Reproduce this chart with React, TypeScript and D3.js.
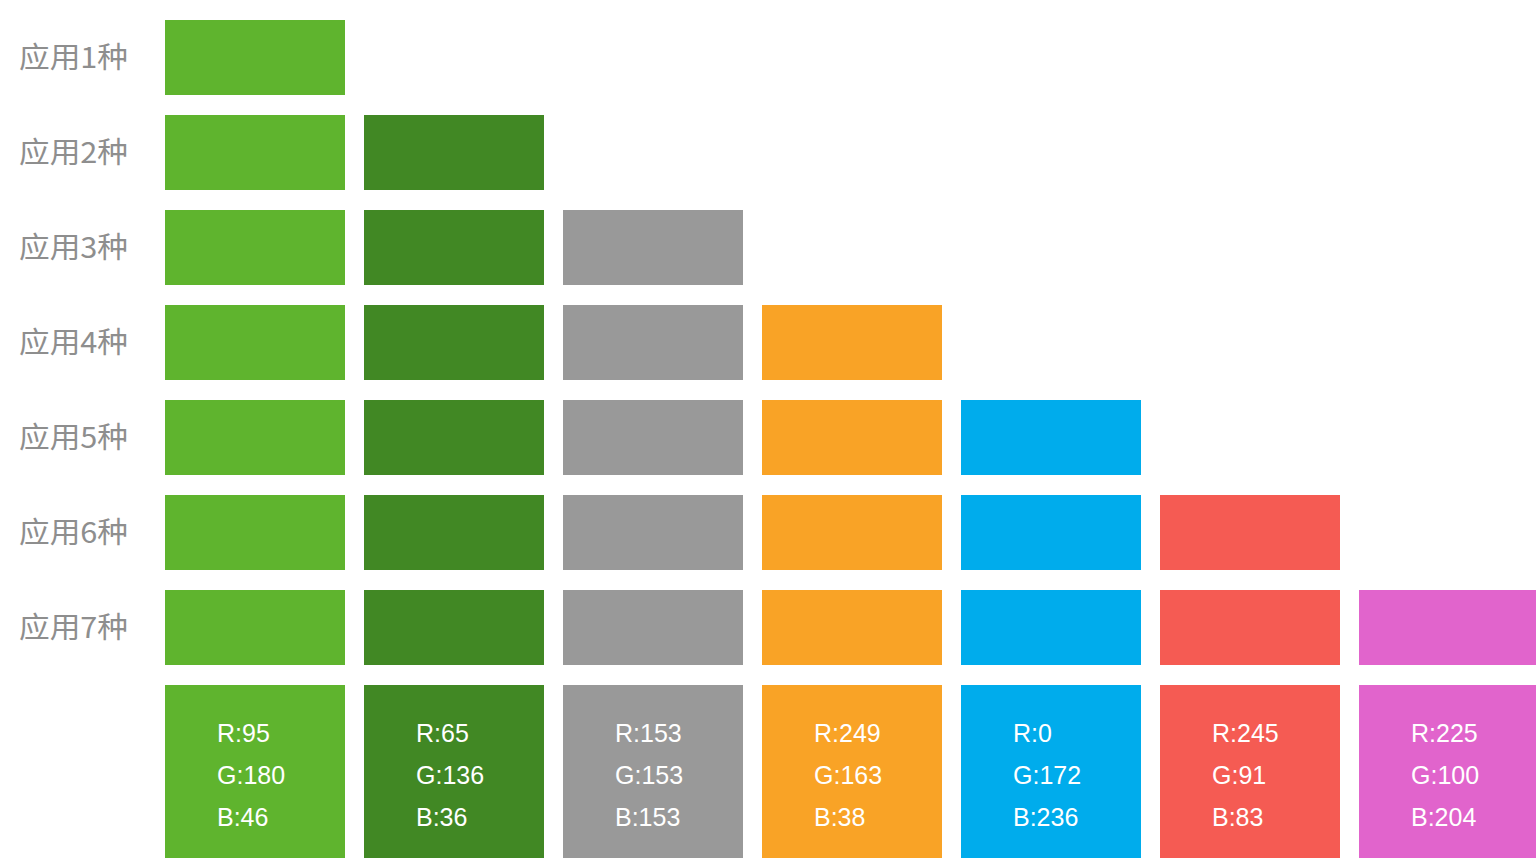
import * as d3 from "d3"

// palette values
const colorNames = ["绿", "深绿", "灰", "橙", "蓝", "红", "紫"]
const reds = [95, 65, 153, 249, 0, 245, 225]
const greens = [180, 136, 153, 163, 172, 91, 100]
const blues = [46, 36, 153, 38, 236, 83, 204]
const rowLabels = ["应用1种", "应用2种", "应用3种", "应用4种", "应用5种", "应用6种", "应用7种"]

const W = 1536
const H = 858

const App = () => {
  const cols = d3.range(colorNames.length)
  const x = d3.scaleBand<number>().domain(cols).range([165, 1539]).paddingInner(0.0955)
  const y = d3
    .scaleBand<number>()
    .domain(d3.range(rowLabels.length + 1))
    .range([20, 20 + 95 * 8 - 20])
    .paddingInner(20 / 95)

  const fill = (i: number) => d3.rgb(reds[i], greens[i], blues[i]).formatHex()
  const legendRow = rowLabels.length

  return (
    <div style={{ position: "fixed", inset: 0, overflow: "hidden", background: "#fff" }}>
      <svg width={W} height={H} style={{ display: "block" }}>
        {/* row labels */}
        {rowLabels.map((label, r) => (
          <text
            key={label}
            x={19}
            y={(y(r) ?? 0) + y.bandwidth() / 2 - 3}
            dominantBaseline="central"
            fontFamily="'Noto Sans CJK SC', sans-serif"
            fontSize={29}
            textLength={109}
            lengthAdjust="spacingAndGlyphs"
            fill="#8e8e8e"
          >
            {label}
          </text>
        ))}

        {/* triangle of swatches: row r uses the first r+1 colours */}
        {rowLabels.map((_, r) =>
          cols
            .filter(c => c <= r)
            .map(c => (
              <rect
                key={`${r}-${c}`}
                x={x(c)}
                y={y(r)}
                width={x.bandwidth()}
                height={y.bandwidth()}
                fill={fill(c)}
              />
            ))
        )}

        {/* bottom swatches with rgb values */}
        {cols.map(c => {
          const x0 = (x(c) ?? 0) + 52
          const y0 = y(legendRow) ?? 0
          return (
            <g key={`legend-${c}`}>
              <rect x={x(c)} y={y0} width={x.bandwidth()} height={220} fill={fill(c)} />
              {[`R:${reds[c]}`, `G:${greens[c]}`, `B:${blues[c]}`].map((t, k) => (
                <text
                  key={t}
                  x={x0}
                  y={y0 + 48 + k * 42}
                  dominantBaseline="central"
                  fontFamily="'Liberation Sans', Arial, sans-serif"
                  fontSize={25}
                  fill="#ffffff"
                >
                  {t}
                </text>
              ))}
            </g>
          )
        })}
      </svg>
    </div>
  )
}

export default App
